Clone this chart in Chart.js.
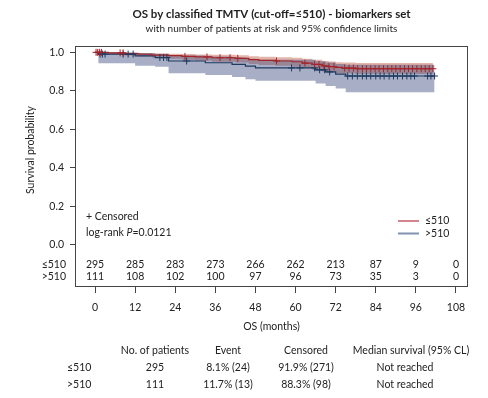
<!DOCTYPE html>
<html>
<head>
<meta charset="utf-8">
<script src="https://cdn.jsdelivr.net/npm/chart.js@4"></script>
<style>
  html, body { margin: 0; padding: 0; background: #fff; }
  #km { display: block; }
</style>
</head>
<body>
<canvas id="km" width="488" height="398"></canvas>
<script>
// kaplan-meier steps (months, survival)
const lowTimes = [0, 4, 9, 13, 17, 22, 26, 30, 35, 42, 46, 49, 54, 59, 62, 65, 68, 70, 72, 74, 78, 101.1];
const lowSurv  = [1.0, 0.997, 0.993, 0.99, 0.986, 0.983, 0.979, 0.976, 0.972, 0.969, 0.962, 0.958, 0.955, 0.951, 0.944, 0.937, 0.93, 0.926, 0.922, 0.918, 0.915, 0.915];
const lowLower = [1.0, 0.99, 0.983, 0.978, 0.972, 0.967, 0.961, 0.957, 0.951, 0.947, 0.939, 0.934, 0.93, 0.925, 0.917, 0.909, 0.901, 0.896, 0.892, 0.89, 0.888, 0.888];
const lowUpper = [1.0, 1.0, 0.999, 0.997, 0.995, 0.993, 0.991, 0.989, 0.987, 0.985, 0.98, 0.977, 0.975, 0.972, 0.967, 0.961, 0.955, 0.952, 0.949, 0.947, 0.945, 0.945];

const highTimes = [0, 1, 12, 18, 22, 33, 41, 45, 48, 66, 69, 72, 75, 101.6];
const highSurv  = [1.0, 0.991, 0.982, 0.973, 0.955, 0.946, 0.937, 0.928, 0.919, 0.909, 0.898, 0.887, 0.877, 0.877];
const highLower = [1.0, 0.943, 0.93, 0.925, 0.891, 0.882, 0.872, 0.86, 0.852, 0.838, 0.825, 0.812, 0.792, 0.792];
const highUpper = [1.0, 0.999, 0.996, 0.992, 0.983, 0.978, 0.973, 0.967, 0.961, 0.954, 0.947, 0.94, 0.935, 0.935];

// censor marks (months)
const lowCensored = [0.3, 0.8, 1.3, 1.9, 7.5, 8.4, 26.9, 33.5, 37.4, 40.4, 42.7, 54.3, 62.8, 65.7, 67, 68.5, 70, 71.5,
  74.7, 76, 77.3, 78.6, 80, 81.2, 82.5, 83.8, 85, 86.3, 87.6, 88.8, 90, 91.3, 92.6, 93.8, 95, 96.3, 97.6, 98.8, 100, 101.1];
const highCensored = [1.5, 2.2, 3, 8.4, 9.9, 11.4, 19.4, 20.5, 21.5, 27.4, 58.8, 61.3, 65.7, 67.2, 68.7, 70.2,
  75.6, 77, 78.5, 80, 81.2, 82.5, 84, 85.3, 86.5, 88, 89.3, 90.5, 92, 93.3, 94.5, 95.6, 99.5, 100.5, 101.6];

// number at risk
const riskTimes = [0, 12, 24, 36, 48, 60, 72, 84, 96, 108];
const riskLow  = [295, 285, 283, 273, 266, 262, 213, 87, 9, 0];
const riskHigh = [111, 108, 102, 100, 97, 96, 73, 35, 3, 0];

const xTicks = [0, 12, 24, 36, 48, 60, 72, 84, 96, 108];
const yTicks = [0, 0.2, 0.4, 0.6, 0.8, 1.0];
const groupNames = ["≤510", ">510"];

// summary table under the plot
const tableHead = ["No. of patients", "Event", "Censored", "Median survival (95% CL)"];
const tableLow  = ["295", "8.1% (24)", "91.9% (271)", "Not reached"];
const tableHigh = ["111", "11.7% (13)", "88.3% (98)", "Not reached"];

const FONT = 'Lato, "Open Sans", sans-serif';
const RED = "#a2252b";
const BLUE = "#1e3a5f";

function pts(xs, ys) {
    return xs.map((x, i) => ({ x: x, y: ys[i] }));
}

// survival at time t from a step curve
function survAt(times, surv, t) {
    let s = surv[0];
    for (let i = 0; i < times.length; i++) {
        if (times[i] <= t) s = surv[i];
    }
    return s;
}

function censorPts(cens, times, surv) {
    return cens.map(t => ({ x: t, y: survAt(times, surv, t) }));
}

const band = (data, fill, color) => ({
    data: data, stepped: true, borderWidth: 0, pointRadius: 0,
    fill: fill, backgroundColor: color, order: 10
});

// draws the title, box, legend, risk rows and table
const extras = {
    id: "extras",
    afterDraw(chart) {
        const ctx = chart.ctx;
        const a = chart.chartArea;
        const xs = chart.scales.x;
        ctx.save();

        ctx.strokeStyle = "#444";
        ctx.lineWidth = 1;
        ctx.strokeRect(Math.round(a.left) + 0.5, Math.round(a.top) + 0.5, Math.round(a.right - a.left) - 1, Math.round(a.bottom - a.top) - 1);

        const mid = (a.left + a.right) / 2;
        ctx.fillStyle = "#222";
        ctx.textAlign = "center";
        ctx.textBaseline = "middle";
        ctx.font = "bold 11.5px " + FONT;
        ctx.fillText("OS by classified TMTV (cut-off=≤510) - biomarkers set", mid, 14);
        ctx.font = "10px " + FONT;
        ctx.fillText("with number of patients at risk and 95% confidence limits", mid, 29);

        // y title
        ctx.save();
        ctx.translate(31, 150);
        ctx.rotate(-Math.PI / 2);
        ctx.font = "10.5px " + FONT;
        ctx.fillText("Survival probability", 0, 0);
        ctx.restore();

        // x title
        ctx.font = "10.5px " + FONT;
        ctx.fillText("OS (months)", mid, 327);

        // censored note + log-rank
        ctx.textAlign = "left";
        ctx.fillText("+ Censored", 86, 217);
        let tx = 86;
        ctx.fillText("log-rank ", tx, 233);
        tx += ctx.measureText("log-rank ").width;
        ctx.font = "italic 10.5px " + FONT;
        ctx.fillText("P", tx, 233);
        tx += ctx.measureText("P").width;
        ctx.font = "10.5px " + FONT;
        ctx.fillText("=0.0121", tx, 233);

        // legend
        ctx.lineWidth = 2;
        ctx.strokeStyle = "#d4868c";
        ctx.beginPath(); ctx.moveTo(398, 221); ctx.lineTo(419, 221); ctx.stroke();
        ctx.strokeStyle = "#8193b1";
        ctx.beginPath(); ctx.moveTo(398, 233.5); ctx.lineTo(419, 233.5); ctx.stroke();
        ctx.fillText(groupNames[0], 425, 221);
        ctx.fillText(groupNames[1], 425, 234);

        // number at risk
        ctx.textAlign = "center";
        riskTimes.forEach((t, i) => {
            const px = xs.getPixelForValue(t);
            ctx.fillText(String(riskLow[i]), px, 265);
            ctx.fillText(String(riskHigh[i]), px, 277);
        });
        ctx.textAlign = "right";
        ctx.fillText(groupNames[0], 66, 265);
        ctx.fillText(groupNames[1], 66, 277);

        // summary table
        const cols = [155, 228, 306, 411];
        ctx.textAlign = "center";
        tableHead.forEach((h, i) => ctx.fillText(h, cols[i], 351));
        tableLow.forEach((v, i) => ctx.fillText(v, i === 3 ? 405 : cols[i], 368));
        tableHigh.forEach((v, i) => ctx.fillText(v, i === 3 ? 405 : cols[i], 385));
        ctx.textAlign = "left";
        ctx.fillText(groupNames[0], 67, 368);
        ctx.fillText(groupNames[1], 67, 385);

        ctx.restore();
    }
};

new Chart(document.getElementById("km"), {
    type: "line",
    data: {
        datasets: [
            band(pts(highTimes, highUpper), false, "transparent"),
            band(pts(highTimes, highLower), "-1", "rgba(62,76,126,0.45)"),
            band(pts(lowTimes, lowUpper), false, "transparent"),
            band(pts(lowTimes, lowLower), "-1", "rgba(195,100,80,0.48)"),
            { data: pts(highTimes, highSurv), stepped: true, borderColor: BLUE, borderWidth: 1.2, pointRadius: 0, fill: false, order: 5 },
            { data: pts(lowTimes, lowSurv), stepped: true, borderColor: RED, borderWidth: 1.2, pointRadius: 0, fill: false, order: 4 },
            { data: censorPts(highCensored, highTimes, highSurv), showLine: false, pointStyle: "cross", pointRadius: 3.5,
              pointBorderColor: BLUE, pointBorderWidth: 1, order: 3 },
            { data: censorPts(lowCensored, lowTimes, lowSurv), showLine: false, pointStyle: "cross", pointRadius: 3.5,
              pointBorderColor: RED, pointBorderWidth: 1, order: 2 }
        ]
    },
    options: {
        responsive: false,
        animation: false,
        devicePixelRatio: 1,
        layout: { padding: { top: 46, right: 20, left: 0, bottom: 0 } },
        plugins: { legend: { display: false }, tooltip: { enabled: false } },
        scales: {
            x: {
                type: "linear", min: -6, max: 111.6,
                afterBuildTicks: s => { s.ticks = xTicks.map(v => ({ value: v })); },
                afterFit: s => { s.height = 111; },
                grid: { drawOnChartArea: false, drawTicks: true, tickLength: 6, color: "#444" },
                border: { display: false },
                ticks: { color: "#222", padding: 8, maxRotation: 0, font: { family: FONT, size: 10.5 } }
            },
            y: {
                type: "linear", min: -0.22, max: 1.033,
                afterBuildTicks: s => { s.ticks = yTicks.map(v => ({ value: v })); },
                afterFit: s => { s.width = 75; },
                grid: { drawOnChartArea: false, drawTicks: true, tickLength: 5, color: "#444" },
                border: { display: false },
                ticks: { color: "#222", padding: 6, callback: v => v.toFixed(1), font: { family: FONT, size: 10.5 } }
            }
        }
    },
    plugins: [extras]
});
</script>
</body>
</html>
